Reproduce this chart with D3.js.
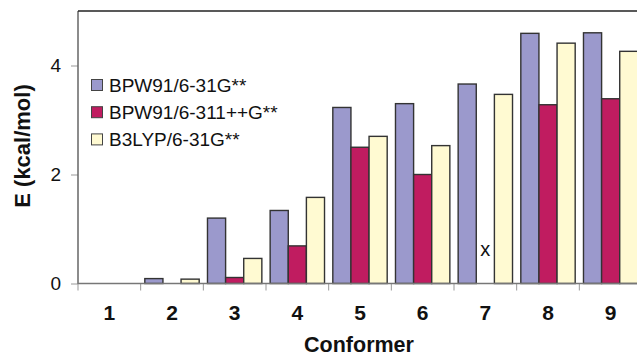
<!DOCTYPE html>
<html><head><meta charset="utf-8">
<script src="https://cdn.jsdelivr.net/npm/d3@7"></script>
<style>body{margin:0;background:#fff}svg{display:block}</style>
</head><body>
<script>
const categories = ["1","2","3","4","5","6","7","8","9"];
const seriesNames = ["BPW91/6-31G**","BPW91/6-311++G**","B3LYP/6-31G**"];
const bpw91_631 = [0, 0.09, 1.20, 1.34, 3.23, 3.30, 3.66, 4.59, 4.60];
const bpw91_6311 = [0, 0, 0.11, 0.69, 2.50, 2.00, null, 3.28, 3.39];
const b3lyp_631 = [0, 0.08, 0.46, 1.58, 2.70, 2.53, 3.47, 4.41, 4.26];
const yTicks = [0, 2, 4];
const missingMark = {category: "7", series: 1, label: "x", value: 0.6};
const colors = ["#9b99cc", "#c01c60", "#fffad2"];

const W = 637, H = 358;
const svg = d3.select("body").append("svg").attr("width", W).attr("height", H);
const x0 = 78, x1 = 642, yTop = 11, yBase = 283.5;
const x = d3.scaleBand().domain(categories).range([x0, x1]).paddingInner(0).paddingOuter(0);
const xs = d3.scaleBand().domain([0,1,2]).range([0, x.bandwidth()]).paddingOuter(0.229).paddingInner(0);
const y = d3.scaleLinear().domain([0, 5]).range([yBase, yTop]);
const series = [bpw91_631, bpw91_6311, b3lyp_631];

// bars
series.forEach((vals, si) => {
  svg.append("g").selectAll("rect").data(categories.map((c, i) => ({c, v: vals[i]})).filter(d => d.v !== null))
    .join("rect")
    .attr("x", d => x(d.c) + xs(si))
    .attr("width", xs.bandwidth())
    .attr("y", d => y(d.v))
    .attr("height", d => yBase - y(d.v))
    .attr("fill", colors[si])
    .attr("stroke", "#333")
    .attr("stroke-width", 1.4);
});

// missing marker
svg.append("text")
  .attr("x", x(missingMark.category) + xs(missingMark.series) + xs.bandwidth()/2)
  .attr("y", y(missingMark.value))
  .attr("text-anchor", "middle").attr("dominant-baseline", "middle")
  .attr("font-family", "Liberation Sans, Arial, sans-serif").attr("font-size", 20)
  .attr("fill", "#111").text(missingMark.label);

// y axis
const yAxis = svg.append("g").attr("transform", `translate(${x0},0)`)
  .call(d3.axisLeft(y).tickValues(yTicks).tickSize(7).tickPadding(10).tickFormat(d3.format("d")));
yAxis.select(".domain").remove();
yAxis.selectAll("line").attr("stroke", "#999");
yAxis.selectAll("text").attr("font-family", "Liberation Sans, Arial, sans-serif").attr("font-size", 19).attr("fill", "#111");
svg.append("line").attr("x1", x0).attr("x2", x0).attr("y1", yTop).attr("y2", yBase + 0.5).attr("stroke", "#666").attr("stroke-width", 1.5);

// x axis
const xAxis = svg.append("g").attr("transform", `translate(0,${yBase})`)
  .call(d3.axisBottom(x).tickSize(0).tickPadding(22));
xAxis.select(".domain").remove();
xAxis.selectAll("text").attr("font-family", "Liberation Sans, Arial, sans-serif").attr("font-size", 21).attr("font-weight", "bold").attr("fill", "#111");
svg.append("g").selectAll("line").data(categories).join("line")
  .attr("x1", d => x(d)).attr("x2", d => x(d)).attr("y1", yBase).attr("y2", yBase + 7)
  .attr("stroke", "#999").attr("stroke-width", 1);
svg.append("line").attr("x1", x0).attr("x2", W).attr("y1", yBase).attr("y2", yBase).attr("stroke", "#777").attr("stroke-width", 1.3);

// top border
svg.append("line").attr("x1", x0).attr("x2", W).attr("y1", yTop).attr("y2", yTop).attr("stroke", "#222").attr("stroke-width", 1.5);

// axis titles
svg.append("text").attr("x", 359).attr("y", 352).attr("text-anchor", "middle")
  .attr("font-family", "Liberation Sans, Arial, sans-serif").attr("font-size", 21.5).attr("font-weight", "bold").attr("fill", "#111")
  .text("Conformer");
svg.append("text").attr("transform", "translate(29.5,146) rotate(-90)").attr("text-anchor", "middle")
  .attr("font-family", "Liberation Sans, Arial, sans-serif").attr("font-size", 22).attr("font-weight", "bold").attr("fill", "#111")
  .text("E (kcal/mol)");

// legend
const leg = svg.append("g");
seriesNames.forEach((name, i) => {
  const cy = 85 + i * 27.2;
  leg.append("rect").attr("x", 91.5).attr("y", cy - 5.5).attr("width", 11).attr("height", 11)
    .attr("fill", colors[i]).attr("stroke", "#444").attr("stroke-width", 1);
  leg.append("text").attr("x", 109).attr("y", cy).attr("dominant-baseline", "central")
    .attr("font-family", "Liberation Sans, Arial, sans-serif").attr("font-size", 19).attr("fill", "#111")
    .text(name);
});
</script>
</body></html>
